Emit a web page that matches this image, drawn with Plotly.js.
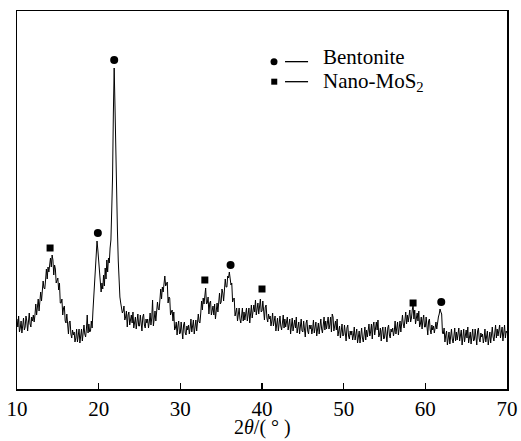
<!DOCTYPE html>
<html>
<head>
<meta charset="utf-8">
<script src="https://cdn.plot.ly/plotly-3.0.1.min.js"></script>
<style>html,body{margin:0;padding:0;background:#fff;}#chart{width:521px;height:441px;}</style>
</head>
<body>
<div id="chart"></div>
<script>
// 2-theta grid: start 10 deg, step 0.1 deg (601 points), intensity (a.u.)
const twoThetaStart = 10;
const twoThetaStep = 0.1;
const intensity = [
 70,62,73,57,61,68,56,66,71,59,
 62,73,68,58,72,76,65,62,72,68,
 74,67,74,85,74,83,90,78,87,97,
 88,102,108,101,100,109,120,110,122,117,
 124,131,122,134,129,114,124,120,106,110,
 111,99,106,86,86,90,74,81,83,68,
 66,75,67,55,67,68,55,51,59,54,
 57,47,51,60,47,55,60,46,53,60,
 48,60,64,55,52,60,74,56,65,57,
 58,68,61,78,93,112,125,140,148,139,
 128,112,106,97,106,100,114,103,121,110,
 129,117,131,126,141,149,179,212,276,321,
 282,229,191,158,128,106,92,86,79,76,
 78,83,69,72,78,62,74,77,64,71,
 74,66,77,61,65,72,60,70,75,63,
 63,74,68,58,72,75,64,61,70,66,
 70,61,67,76,64,71,89,63,70,78,
 68,81,87,80,79,89,100,90,102,97,
 106,113,103,105,107,86,92,91,74,77,
 79,68,77,59,61,67,54,63,68,55,
 56,67,60,50,64,67,56,54,63,59,
 64,55,61,70,57,65,69,55,62,69,
 58,70,75,67,66,76,88,79,91,85,
 92,101,85,86,92,75,86,88,74,79,
 83,74,85,70,76,86,77,89,96,85,
 87,100,96,88,105,110,102,102,113,111,
 117,106,104,106,87,90,91,73,76,81,
 68,78,81,70,66,73,81,68,77,69,
 74,81,68,73,81,66,79,84,71,79,
 84,77,89,74,79,86,75,85,90,77,
 78,88,81,69,82,84,71,67,75,70,
 73,63,68,76,63,69,73,58,64,71,
 58,69,73,63,59,66,74,61,70,62,
 66,72,59,63,70,55,67,71,58,65,
 69,61,72,56,60,67,55,65,70,58,
 57,68,62,52,66,69,58,55,64,60,
 64,55,60,69,56,63,67,53,59,66,
 55,66,70,60,56,64,72,59,68,60,
 66,72,60,64,72,57,75,72,58,64,
 68,59,70,53,57,63,51,60,65,53,
 54,64,58,48,61,64,53,50,58,54,
 58,49,54,62,49,56,60,46,52,58,
 46,57,61,51,47,54,62,49,59,52,
 58,65,53,57,65,50,63,67,54,62,
 67,59,69,52,55,61,48,58,62,50,
 51,62,56,47,61,64,54,51,60,57,
 61,53,58,68,55,63,67,54,60,68,
 57,69,74,65,61,69,77,65,74,67,
 72,79,67,71,79,84,70,79,65,72,
 76,68,78,62,65,72,60,69,74,62,
 62,72,65,54,68,70,59,55,64,59,
 63,56,61,67,60,68,72,75,80,77,
 75,56,55,61,47,54,58,44,50,57,
 45,56,60,50,46,53,61,48,57,49,
 55,61,48,52,59,44,56,60,47,54,
 59,51,62,46,50,57,45,55,60,48,
 49,60,54,44,58,61,50,47,56,52,
 55,46,51,60,47,54,58,44,50,57,
 46,57,62,52,48,56,64,51,60,53,
 58,64,51,55,62,48,60,64,51,58,
 56
];

// Peak markers
const bentoniteX = [19.9, 21.9, 36.15, 61.95];
const bentoniteY = [156, 329, 124, 87];
const mosX = [14.05, 33.0, 40.0, 58.5];
const mosY = [141, 109, 100, 86];

const xTicks = [10, 20, 30, 40, 50, 60, 70];
const legendLabels = ["Bentonite", "Nano-MoS<sub>2</sub>"];
const xTitle = "2<i>θ</i>/( ° )";

const FONT = "'Liberation Serif', 'Times New Roman', serif";

const traces = [
  {type: "scatter", mode: "lines", x0: twoThetaStart, dx: twoThetaStep, y: intensity,
   line: {color: "#000", width: 1}, hoverinfo: "skip", showlegend: false},
  {type: "scatter", mode: "markers", x: bentoniteX, y: bentoniteY,
   marker: {symbol: "circle", size: 8, color: "#000"}, showlegend: false},
  {type: "scatter", mode: "markers", x: mosX, y: mosY,
   marker: {symbol: "square", size: 7, color: "#000"}, showlegend: false}
];

const layout = {
  width: 521, height: 441,
  margin: {l: 17, r: 14, t: 11, b: 52},
  paper_bgcolor: "#fff", plot_bgcolor: "#fff",
  font: {family: FONT, color: "#000", size: 20},
  showlegend: false,
  xaxis: {
    range: [10, 70], tickvals: xTicks, ticktext: xTicks.map(String),
    ticks: "inside", ticklen: 6, tickwidth: 1.2, tickcolor: "#000",
    showline: true, mirror: true, linecolor: "#000", linewidth: 1.5,
    showgrid: false, zeroline: false,
    tickfont: {family: FONT, size: 21, color: "#000"}
  },
  yaxis: {
    range: [0, 378], showticklabels: false, ticks: "",
    showline: true, mirror: true, linecolor: "#000", linewidth: 1.5,
    showgrid: false, zeroline: false
  },
  shapes: [
    {type: "circle", xref: "paper", yref: "paper", xsizemode: "pixel", ysizemode: "pixel",
     xanchor: 0.5245, yanchor: 0.866, x0: -3.5, x1: 3.5, y0: -3.5, y1: 3.5,
     fillcolor: "#000", line: {width: 0}},
    {type: "line", xref: "paper", yref: "paper", x0: 0.547, x1: 0.594, y0: 0.866, y1: 0.866,
     line: {color: "#000", width: 1.3}},
    {type: "rect", xref: "paper", yref: "paper", xsizemode: "pixel", ysizemode: "pixel",
     xanchor: 0.525, yanchor: 0.813, x0: -3, x1: 3, y0: -3, y1: 3,
     fillcolor: "#000", line: {width: 0}},
    {type: "line", xref: "paper", yref: "paper", x0: 0.547, x1: 0.594, y0: 0.813, y1: 0.813,
     line: {color: "#000", width: 1.3}}
  ],
  annotations: [
    {xref: "paper", yref: "paper", x: 0.621, y: 0.879, xanchor: "left", yanchor: "middle",
     text: legendLabels[0], showarrow: false, font: {family: FONT, size: 21, color: "#000"}},
    {xref: "paper", yref: "paper", x: 0.621, y: 0.813, xanchor: "left", yanchor: "middle",
     text: legendLabels[1], showarrow: false, font: {family: FONT, size: 21, color: "#000"}},
    {xref: "paper", yref: "paper", x: 0.5, y: -0.101, xanchor: "center", yanchor: "middle",
     text: xTitle, showarrow: false, font: {family: FONT, size: 20, color: "#000"}}
  ]
};

Plotly.newPlot("chart", traces, layout, {displayModeBar: false, staticPlot: true});
</script>
</body>
</html>
